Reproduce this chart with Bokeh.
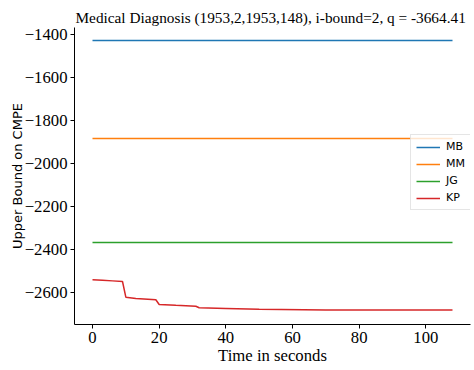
from bokeh.plotting import figure
from bokeh.models import FixedTicker, Range1d, Legend, LegendItem, CustomJSTickFormatter
from bokeh.embed import file_html
from bokeh.resources import INLINE

# data
mb_t = [0, 108]
mb_v = [-1428, -1428]
mm_t = [0, 108]
mm_v = [-1884, -1884]
jg_t = [0, 108]
jg_v = [-2368, -2368]
kp_t = [0, 3, 6, 9, 10, 13, 19, 20, 25, 31, 32, 40, 50, 70, 108]
kp_v = [-2541, -2543, -2546, -2549, -2622, -2628, -2634, -2656, -2660, -2664, -2671, -2674, -2678, -2681, -2682]
x_ticks = [0, 20, 40, 60, 80, 100]
y_ticks = [-2600, -2400, -2200, -2000, -1800, -1600, -1400]

p = figure(width=474, height=370, output_backend="svg", toolbar_location=None,
           x_range=Range1d(-5.4, 113.4), y_range=Range1d(-2749, -1367),
           min_border_left=74, min_border_right=4, min_border_bottom=46, min_border_top=27)
p.outline_line_color = None
p.xgrid.visible = False
p.ygrid.visible = False
p.background_fill_color = "white"
p.border_fill_color = "white"

p.title.text = "Medical Diagnosis (1953,2,1953,148), i-bound=2, q = -3664.41"
p.title.text_font = "Liberation Serif"
p.title.text_font_size = "15.3px"
p.title.text_font_style = "normal"
p.title.text_color = "black"
p.title.align = "left"
p.title.offset = 1
p.title.standoff = 3

fmt = CustomJSTickFormatter(code="return String(tick).replace('-', '\u2212');")
for ax in (p.xaxis[0], p.yaxis[0]):
    ax.major_label_text_font = "Liberation Serif"
    ax.major_label_text_font_size = "16.7px"
    ax.major_label_text_color = "black"
    ax.major_tick_in = 0
    ax.major_tick_out = 4
    ax.minor_tick_out = 0
    ax.minor_tick_in = 0
    ax.axis_line_color = "black"
    ax.major_tick_line_color = "black"
    ax.axis_label_text_font_style = "normal"
    ax.axis_label_text_color = "black"
p.xaxis[0].ticker = FixedTicker(ticks=x_ticks)
p.yaxis[0].ticker = FixedTicker(ticks=y_ticks)
p.yaxis[0].formatter = fmt
p.xaxis[0].axis_label = "Time in seconds"
p.xaxis[0].axis_label_text_font = "Liberation Serif"
p.xaxis[0].axis_label_text_font_size = "16.7px"
p.xaxis[0].axis_label_standoff = 0
p.xaxis[0].major_label_standoff = 3
p.yaxis[0].axis_label = "Upper Bound on CMPE"
p.yaxis[0].axis_label_text_font = "DejaVu Sans"
p.yaxis[0].axis_label_text_font_size = "13px"
p.yaxis[0].axis_label_standoff = -3
p.yaxis[0].major_label_standoff = 3

r1 = p.line(mb_t, mb_v, line_color="#1f77b4", line_width=1.5)
r2 = p.line(mm_t, mm_v, line_color="#ff7f0e", line_width=1.5)
r3 = p.line(jg_t, jg_v, line_color="#2ca02c", line_width=1.5)
r4 = p.line(kp_t, kp_v, line_color="#d62728", line_width=1.5)

legend = Legend(items=[LegendItem(label="MB", renderers=[r1]),
                       LegendItem(label="MM", renderers=[r2]),
                       LegendItem(label="JG", renderers=[r3]),
                       LegendItem(label="KP", renderers=[r4])],
                location=(336, 114))
legend.label_text_font = "DejaVu Sans"
legend.label_text_font_size = "11px"
legend.label_text_color = "black"
legend.label_height = 12
legend.glyph_height = 12
legend.glyph_width = 24
legend.spacing = 4
legend.padding = 5
legend.margin = 0
legend.label_standoff = 6
legend.border_line_color = "#cccccc"
legend.border_line_width = 1
legend.background_fill_alpha = 0.8
p.add_layout(legend, "center")

open("out.html", "w").write(file_html(p, INLINE))
